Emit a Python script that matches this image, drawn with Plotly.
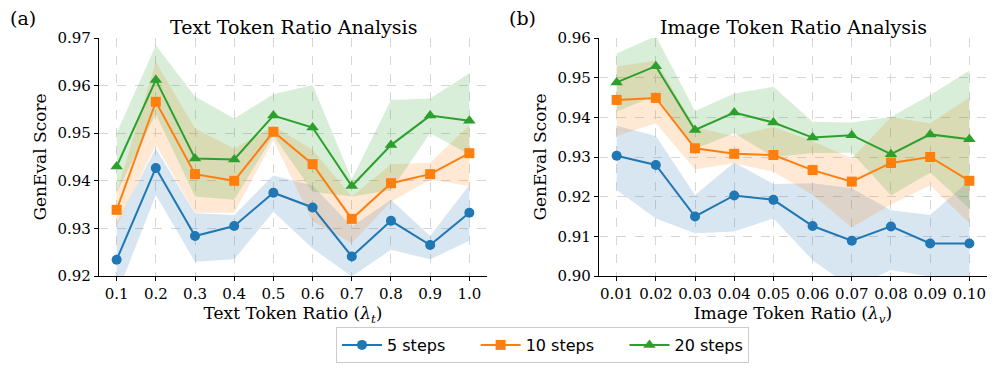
import plotly.graph_objects as go

# text token ratio panel
text_ratio = [0.1, 0.2, 0.3, 0.4, 0.5, 0.6, 0.7, 0.8, 0.9, 1.0]
text_5 = [0.9234, 0.9427, 0.9284, 0.9305, 0.9375, 0.9344, 0.9241, 0.9316, 0.9265, 0.9333]
text_5_lo = [0.9160, 0.9370, 0.9230, 0.9235, 0.9335, 0.9258, 0.9199, 0.9255, 0.9235, 0.9274]
text_5_hi = [0.9311, 0.9468, 0.9332, 0.9328, 0.9411, 0.9390, 0.9304, 0.9360, 0.9284, 0.9391]
text_10 = [0.9339, 0.9566, 0.9414, 0.9400, 0.9503, 0.9435, 0.9320, 0.9395, 0.9414, 0.9458]
text_10_lo = [0.9305, 0.9475, 0.9333, 0.9333, 0.9485, 0.9315, 0.9269, 0.9356, 0.9402, 0.9389]
text_10_hi = [0.9375, 0.9650, 0.9510, 0.9468, 0.9515, 0.9465, 0.9367, 0.9435, 0.9438, 0.9517]
text_20 = [0.9430, 0.9612, 0.9447, 0.9445, 0.9537, 0.9512, 0.9389, 0.9475, 0.9537, 0.9526]
text_20_lo = [0.9375, 0.9540, 0.9367, 0.9360, 0.9495, 0.9377, 0.9367, 0.9380, 0.9500, 0.9455]
text_20_hi = [0.9500, 0.9685, 0.9577, 0.9531, 0.9582, 0.9601, 0.9403, 0.9570, 0.9573, 0.9626]

# image token ratio panel
img_ratio = [0.01, 0.02, 0.03, 0.04, 0.05, 0.06, 0.07, 0.08, 0.09, 0.10]
img_5 = [0.9303, 0.9280, 0.9150, 0.9203, 0.9192, 0.9126, 0.9089, 0.9125, 0.9082, 0.9082]
img_5_lo = [0.9217, 0.9145, 0.9108, 0.9112, 0.9145, 0.9040, 0.8970, 0.9015, 0.8998, 0.8985]
img_5_hi = [0.9379, 0.9353, 0.9204, 0.9286, 0.9232, 0.9234, 0.9221, 0.9166, 0.9154, 0.9240]
img_10 = [0.9444, 0.9449, 0.9322, 0.9308, 0.9305, 0.9267, 0.9238, 0.9285, 0.9300, 0.9240]
img_10_lo = [0.9353, 0.9385, 0.9269, 0.9284, 0.9263, 0.9205, 0.9122, 0.9180, 0.9229, 0.9133]
img_10_hi = [0.9528, 0.9543, 0.9375, 0.9353, 0.9376, 0.9340, 0.9297, 0.9400, 0.9385, 0.9450]
img_20 = [0.9488, 0.9529, 0.9368, 0.9412, 0.9387, 0.9349, 0.9355, 0.9307, 0.9357, 0.9345]
img_20_lo = [0.9415, 0.9455, 0.9320, 0.9360, 0.9300, 0.9310, 0.9311, 0.9203, 0.9260, 0.9170]
img_20_hi = [0.9561, 0.9605, 0.9416, 0.9460, 0.9477, 0.9389, 0.9387, 0.9401, 0.9456, 0.9518]

labels = ["5 steps", "10 steps", "20 steps"]
colors = ["#1f77b4", "#ff7f0e", "#2ca02c"]
fills = ["rgba(31,119,180,0.18)", "rgba(255,127,14,0.18)", "rgba(44,160,44,0.18)"]
symbols = ["circle", "square", "triangle-up"]

W, H = 996, 372
OFF = 8  # page body margin
SERIF = "DejaVu Serif"

fig = go.Figure()

panels = [
    ("x", "y", text_ratio, [(text_5, text_5_lo, text_5_hi), (text_10, text_10_lo, text_10_hi), (text_20, text_20_lo, text_20_hi)]),
    ("x2", "y2", img_ratio, [(img_5, img_5_lo, img_5_hi), (img_10, img_10_lo, img_10_hi), (img_20, img_20_lo, img_20_hi)]),
]

# pad legend names so entries are spaced like the reference
pad = "\u00a0" * 5
legend_names = [labels[0] + pad, labels[1] + pad, labels[2]]

for p, (xa, ya, xs, series) in enumerate(panels):
    # bands first so lines sit on top
    for i, (mean, lo, hi) in enumerate(series):
        fig.add_trace(go.Scatter(x=xs, y=hi, xaxis=xa, yaxis=ya, mode="lines",
                                 line=dict(width=0), showlegend=False, hoverinfo="skip"))
        fig.add_trace(go.Scatter(x=xs, y=lo, xaxis=xa, yaxis=ya, mode="lines",
                                 line=dict(width=0), fill="tonexty", fillcolor=fills[i],
                                 showlegend=False, hoverinfo="skip"))
    for i, (mean, lo, hi) in enumerate(series):
        fig.add_trace(go.Scatter(x=xs, y=mean, xaxis=xa, yaxis=ya, mode="lines+markers",
                                 name=legend_names[i], showlegend=(p == 0),
                                 line=dict(color=colors[i], width=2),
                                 marker=dict(symbol=symbols[i], size=11 if i == 2 else 10, color=colors[i]),
                                 cliponaxis=False))

axis_common = dict(
    showline=True, linecolor="black", linewidth=1.2,
    ticks="outside", ticklen=4, tickwidth=1.2, tickcolor="black",
    showgrid=True, gridcolor="#d6d6d6", griddash="dash", gridwidth=1,
    zeroline=False, mirror=False, automargin=False, tickangle=0,
    tickfont=dict(family=SERIF, size=15, color="black"),
)
title_font = dict(family=SERIF, size=17, color="black")

top, bottom = 38 - OFF, 276 - OFF
ph = bottom - top

fig.update_layout(
    width=W, height=H,
    margin=dict(l=0, r=0, t=top, b=H - bottom, autoexpand=False),
    plot_bgcolor="white", paper_bgcolor="white",
    xaxis=dict(axis_common, domain=[(99 - OFF) / W, (487 - OFF) / W], range=[0.055, 1.045],
               tickvals=text_ratio, tickformat=".1f", anchor="y",
               title=dict(text="Text Token Ratio (<i>λ</i><sub><i>t</i></sub>)", font=title_font, standoff=0)),
    yaxis=dict(axis_common, domain=[0, 1], range=[0.92, 0.97], dtick=0.01,
               tickformat=".2f", anchor="x",
               title=dict(text="GenEval Score", font=title_font, standoff=6)),
    xaxis2=dict(axis_common, domain=[(599 - OFF) / W, (987 - OFF) / W], range=[0.0055, 0.1045],
                tickvals=img_ratio, tickformat=".2f", anchor="y2",
                title=dict(text="Image Token Ratio (<i>λ</i><sub><i>v</i></sub>)", font=title_font, standoff=0)),
    yaxis2=dict(axis_common, domain=[0, 1], range=[0.90, 0.96], dtick=0.01,
                tickformat=".2f", anchor="x2",
                title=dict(text="GenEval Score", font=title_font, standoff=6)),
    legend=dict(orientation="h", x=(542.5 - OFF) / W, xanchor="center",
                y=(bottom - (327 - OFF)) / ph, yanchor="top",
                traceorder="normal",
                bordercolor="#cccccc", borderwidth=1, bgcolor="white",
                font=dict(family="DejaVu Sans", size=16, color="black"),
                itemwidth=40, tracegroupgap=0),
    showlegend=True,
)

# panel titles and labels
for txt, xc in [("Text Token Ratio Analysis", 293), ("Image Token Ratio Analysis", 793)]:
    fig.add_annotation(text=txt, x=(xc - OFF) / W, y=(bottom - (27 - OFF)) / ph, xref="paper", yref="paper",
                       showarrow=False, xanchor="center", yanchor="middle",
                       font=dict(family=SERIF, size=19, color="black"))
for txt, xc in [("(a)", 23), ("(b)", 522)]:
    fig.add_annotation(text=txt, x=(xc - OFF) / W, y=(bottom - (18 - OFF)) / ph, xref="paper", yref="paper",
                       showarrow=False, xanchor="center", yanchor="middle",
                       font=dict(family=SERIF, size=19, color="black"))

fig.write_html("out.html")
